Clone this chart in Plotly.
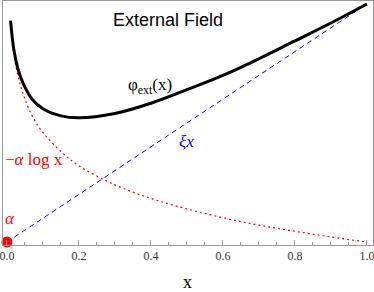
import plotly.graph_objects as go

# Curve samples (y in units where xi*x reaches 1 at x=1)
x_vals = [0.01, 0.015, 0.02, 0.03, 0.04, 0.05, 0.07, 0.1, 0.15, 0.2, 0.3, 0.4, 0.5, 0.6, 0.7, 0.8, 0.9, 1.0]
phi_ext = [0.93, 0.855, 0.80, 0.73, 0.685, 0.65, 0.60, 0.56, 0.53, 0.522, 0.54, 0.583, 0.64, 0.70, 0.77, 0.845, 0.92, 1.0]
neg_alpha_log = [0.92, 0.84, 0.78, 0.70, 0.645, 0.60, 0.53, 0.46, 0.38, 0.32, 0.24, 0.183, 0.139, 0.102, 0.071, 0.045, 0.021, 0.0]
xi_x = [0.0, 1.0]
xi_xs = [0.0, 1.0]
dot_x = [0.0]
dot_y = [0.0]
x_ticks = [0.0, 0.2, 0.4, 0.6, 0.8, 1.0]
x_tick_labels = ["0.0", "0.2", "0.4", "0.6", "0.8", "1.0"]

W, H = 374, 292
L, R, T, B = 3, 1, 1, 47
pw, ph = W - L - R, H - T - B


def px(x):
    return (x - L) / pw


def py(y):
    return (T + ph - y) / ph


fig = go.Figure()
fig.add_trace(go.Scatter(x=xi_xs, y=xi_x, mode="lines",
                         line=dict(color="#0000ff", width=1, dash="5px,4px"),
                         hoverinfo="skip"))
fig.add_trace(go.Scatter(x=x_vals, y=neg_alpha_log, mode="lines", line_shape="spline",
                         line=dict(color="#ff0000", width=1.2, dash="2px,3px"),
                         hoverinfo="skip"))
fig.add_trace(go.Scatter(x=x_vals, y=phi_ext, mode="lines", line_shape="spline",
                         line=dict(color="black", width=3),
                         hoverinfo="skip"))
fig.add_trace(go.Scatter(x=dot_x, y=dot_y, mode="markers", cliponaxis=False,
                         marker=dict(color="#ff0000", size=11, line=dict(width=0)),
                         hoverinfo="skip"))

serif = "Liberation Serif"
ann = []
ann.append(dict(x=px(168), y=py(20), text="External Field", showarrow=False,
                font=dict(family="Liberation Sans", size=18, color="black")))
ann.append(dict(x=px(150), y=py(86), text="φ<sub>ext</sub>(x)", showarrow=False,
                font=dict(family=serif, size=17, color="black")))
ann.append(dict(x=px(186), y=py(142), text="<i>ξx</i>", showarrow=False,
                font=dict(family=serif, size=17, color="#0000ff")))
ann.append(dict(x=px(3), y=py(159), text="−<i>α</i> log x", showarrow=False, xanchor="left",
                font=dict(family=serif, size=17, color="#ff0000")))
ann.append(dict(x=px(10), y=py(218), text="<i>α</i>", showarrow=False,
                font=dict(family=serif, size=17, color="#ff0000")))
ann.append(dict(x=px(187), y=py(282), text="x", showarrow=False,
                font=dict(family=serif, size=18, color="black")))
for a in ann:
    a.update(xref="paper", yref="paper", yanchor="middle")
    a.setdefault("xanchor", "center")

fig.update_layout(
    width=W, height=H,
    margin=dict(l=L, r=R, t=T, b=B, autoexpand=False),
    paper_bgcolor="white", plot_bgcolor="white",
    showlegend=False,
    annotations=ann,
    xaxis=dict(range=[-0.011, 1.017], showgrid=False, zeroline=False, automargin=False,
               showline=True, linecolor="#999999", linewidth=1, mirror=True,
               tickvals=x_ticks, ticktext=x_tick_labels, ticks="inside",
               ticklen=5, tickcolor="#999999", tickwidth=1, ticklabeloverflow="allow",
               tickfont=dict(family=serif, size=12, color="#333333"),
               minor=dict(dtick=0.05, tick0=0, ticks="inside", ticklen=3,
                          tickcolor="#999999", showgrid=False)),
    yaxis=dict(range=[-0.0126, 1.0126], showgrid=False, zeroline=False, automargin=False,
               showline=True, linecolor="#999999", linewidth=1, mirror=True,
               showticklabels=False, ticks=""),
)

fig.write_html("out.html", config={"displayModeBar": False},
               post_script="document.body.style.margin='0';document.body.style.overflow='hidden';")
